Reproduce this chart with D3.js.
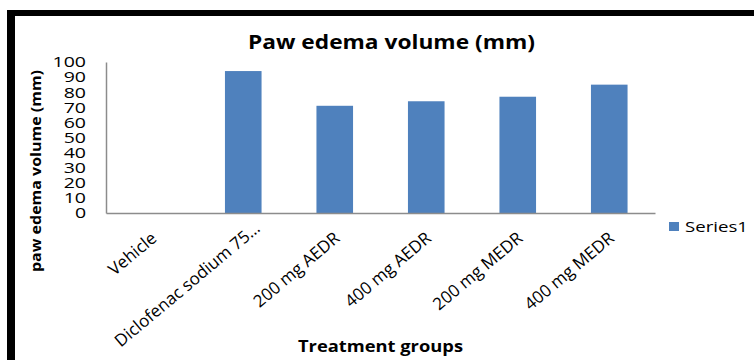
<!DOCTYPE html>
<html>
<head>
<meta charset="utf-8">
<script src="https://cdn.jsdelivr.net/npm/d3@7"></script>
<style>
  html, body { margin: 0; padding: 0; background: #fff; }
  svg { display: block; }
  text { font-family: "Open Sans", "Liberation Sans", sans-serif; fill: #000; }
</style>
</head>
<body>
<svg id="chart" width="754" height="360"></svg>
<script>
// Paw edema volume per treatment group
const categories = ["Vehicle", "Diclofenac sodium 75…", "200 mg AEDR", "400 mg AEDR", "200 mg MEDR", "400 mg MEDR"];
const series1 = [0, 94, 71, 74, 77, 85];
const yTicks = [0, 10, 20, 30, 40, 50, 60, 70, 80, 90, 100];
const seriesName = "Series1";

const svg = d3.select("#chart");
const W = 754, H = 360;
const plot = { left: 106, right: 655, top: 62, bottom: 213 };
const barColor = "#4f81bd";
const axisColor = "#8c8c8c";
const stretch = 1.3; // glyph widening for the numeric labels

// frame: heavy black edge along top and left
svg.append("rect").attr("x", 7).attr("y", 10).attr("width", W - 7).attr("height", 6).attr("fill", "#000");
svg.append("rect").attr("x", 7).attr("y", 10).attr("width", 8).attr("height", H - 10).attr("fill", "#000");

const x = d3.scaleBand()
  .domain(categories)
  .range([plot.left, plot.right])
  .paddingInner(0.6)
  .paddingOuter(0.3);

const y = d3.scaleLinear()
  .domain([0, 100])
  .range([plot.bottom, plot.top]);

// bars
svg.append("g").selectAll("rect")
  .data(categories.map((c, i) => ({ c, v: series1[i] })))
  .join("rect")
  .attr("x", d => x(d.c))
  .attr("y", d => y(d.v))
  .attr("width", x.bandwidth())
  .attr("height", d => y(0) - y(d.v))
  .attr("fill", barColor);

// y axis
const yAxis = svg.append("g")
  .attr("transform", `translate(${plot.left},0)`)
  .call(d3.axisLeft(y).tickValues(yTicks).tickSize(0).tickPadding(20).tickFormat(d3.format("d")));
yAxis.select(".domain").attr("stroke", axisColor).attr("stroke-width", 1.5);
yAxis.selectAll("text")
  .attr("font-size", 15)
  .attr("font-family", "'Open Sans', sans-serif")
  .attr("fill", "#000")
  .attr("x", -20 / stretch)
  .attr("transform", `scale(${stretch},1)`);

// x axis; labels slanted, a clipped label sits a little further along its slant
const xAxis = svg.append("g")
  .attr("transform", `translate(0,${plot.bottom})`)
  .call(d3.axisBottom(x).tickSize(0).tickPadding(0));
xAxis.select(".domain").attr("stroke", axisColor).attr("stroke-width", 1.5);
xAxis.selectAll(".tick text")
  .attr("font-size", 17)
  .attr("font-family", "'Open Sans', sans-serif")
  .attr("fill", "#000")
  .attr("text-anchor", "end")
  .attr("dy", null)
  .attr("y", 0)
  .attr("transform", d => d.endsWith("…") ? "translate(18,17) rotate(-40)" : "translate(6,27) rotate(-40)");

// chart title
svg.append("text")
  .attr("x", 248).attr("y", 49)
  .attr("font-size", 19).attr("font-weight", "bold")
  .attr("textLength", 287).attr("lengthAdjust", "spacingAndGlyphs")
  .text("Paw edema volume (mm)");

// axis titles
svg.append("text")
  .attr("x", 298).attr("y", 352)
  .attr("font-size", 16).attr("font-weight", "bold")
  .attr("textLength", 165).attr("lengthAdjust", "spacingAndGlyphs")
  .text("Treatment groups");

svg.append("text")
  .attr("transform", "translate(41,272) rotate(-90)")
  .attr("font-size", 15).attr("font-weight", "bold")
  .attr("textLength", 202).attr("lengthAdjust", "spacingAndGlyphs")
  .text("paw edema volume (mm)");

// legend
const legend = svg.append("g").attr("transform", "translate(669,222)");
legend.append("rect").attr("width", 10).attr("height", 9).attr("fill", barColor);
legend.append("text")
  .attr("x", 16).attr("y", 10)
  .attr("font-size", 15)
  .attr("textLength", 63).attr("lengthAdjust", "spacingAndGlyphs")
  .text(seriesName);
</script>
</body>
</html>
